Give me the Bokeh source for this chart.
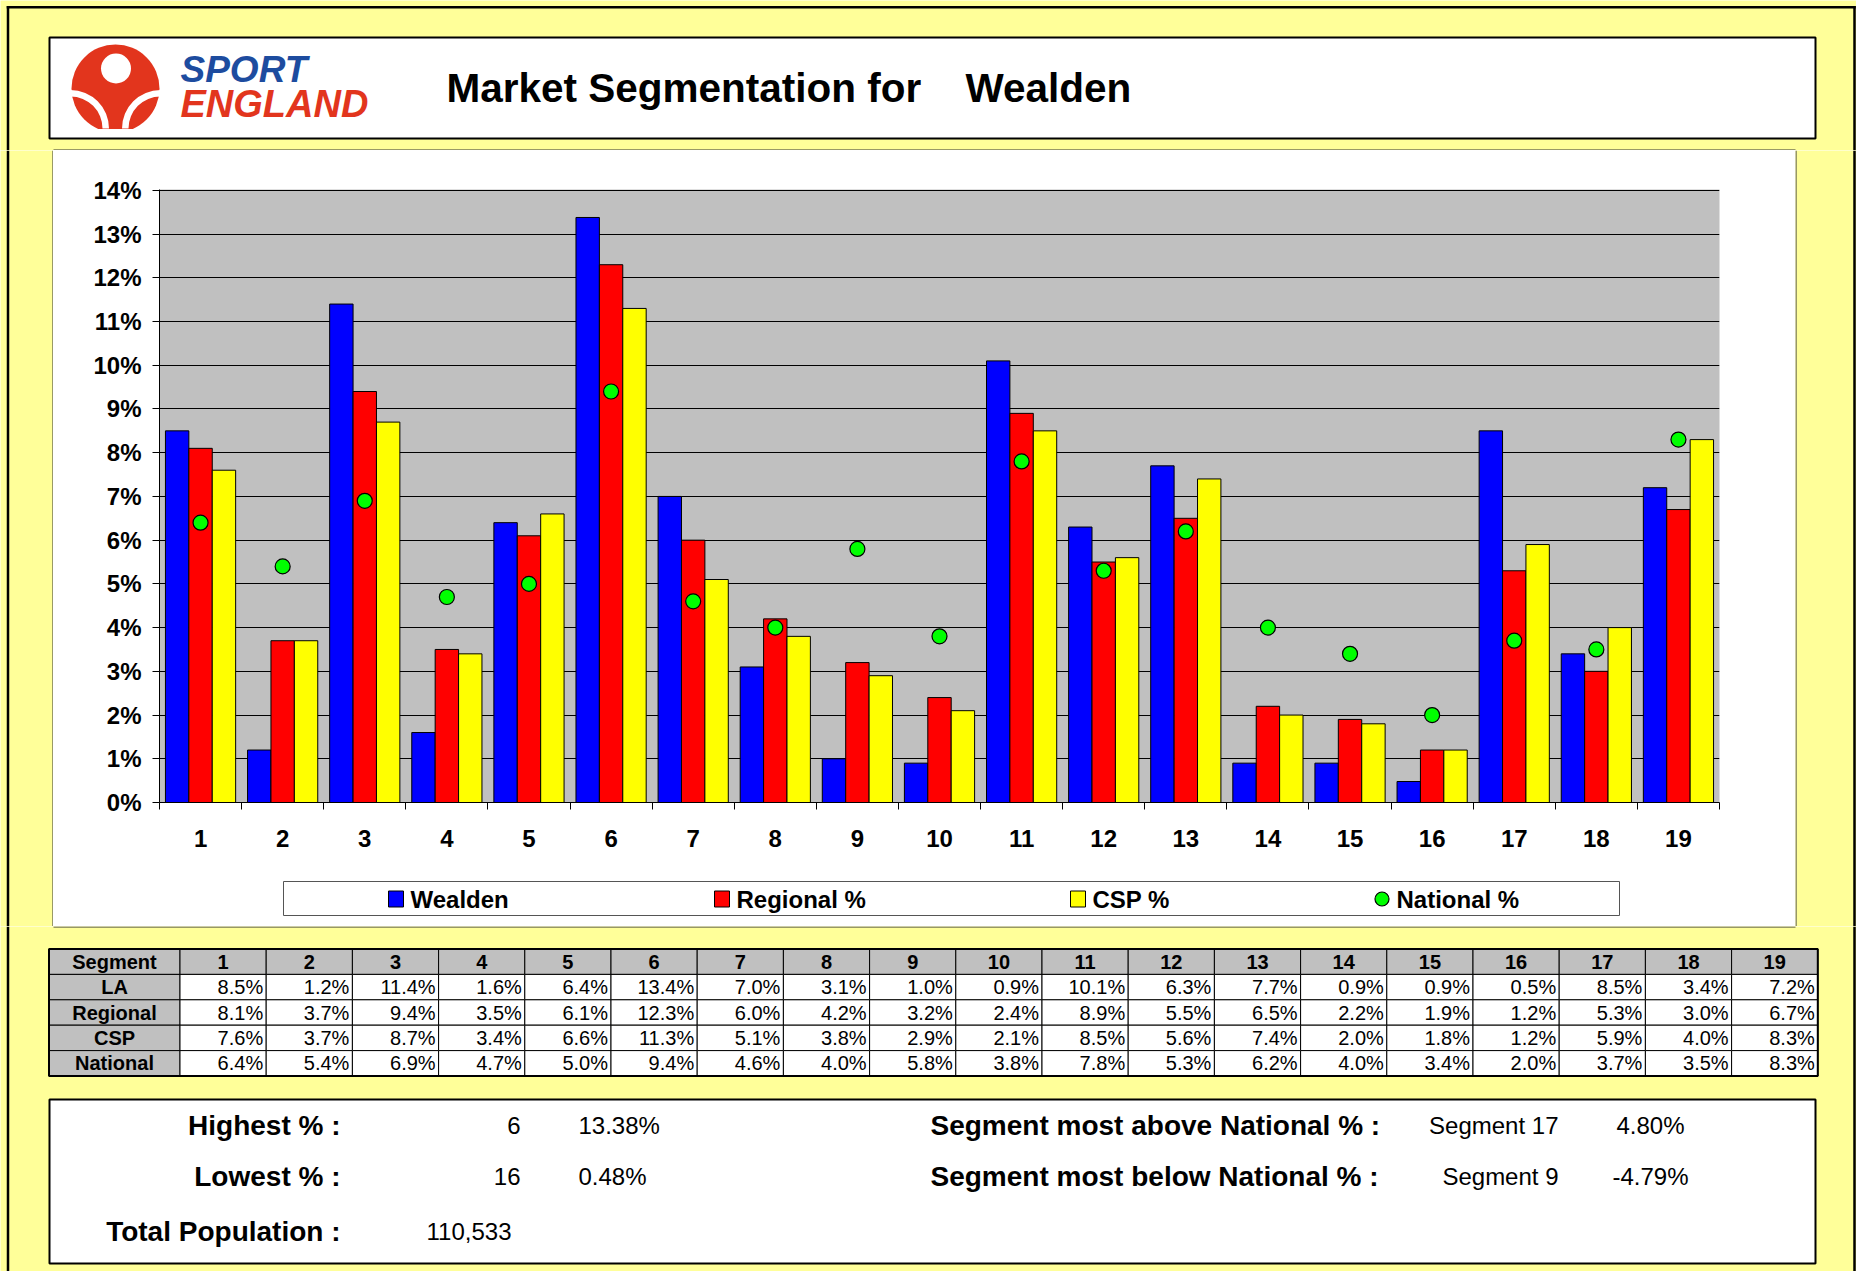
from bokeh.plotting import figure
from bokeh.layouts import column, row
from bokeh.models import Range1d, FixedTicker, PrintfTickFormatter, ColumnDataSource
from bokeh.transform import dodge
from bokeh.core.properties import value
from bokeh.embed import file_html
from bokeh.resources import INLINE

# ---------------- data ----------------
area_name = "Wealden"
segments = list(range(1, 20))
la_pct = [8.5, 1.2, 11.4, 1.6, 6.4, 13.38, 7.0, 3.1, 1.0, 0.9, 10.1, 6.3, 7.7, 0.9, 0.9, 0.48, 8.5, 3.4, 7.2]
regional_pct = [8.1, 3.7, 9.4, 3.5, 6.1, 12.3, 6.0, 4.2, 3.2, 2.4, 8.9, 5.5, 6.5, 2.2, 1.9, 1.2, 5.3, 3.0, 6.7]
csp_pct = [7.6, 3.7, 8.7, 3.4, 6.6, 11.3, 5.1, 3.8, 2.9, 2.1, 8.5, 5.6, 7.4, 2.0, 1.8, 1.2, 5.9, 4.0, 8.3]
national_pct = [6.4, 5.4, 6.9, 4.7, 5.0, 9.4, 4.6, 4.0, 5.8, 3.8, 7.8, 5.3, 6.2, 4.0, 3.4, 2.0, 3.7, 3.5, 8.3]
series_labels = ["Wealden", "Regional %", "CSP %", "National %"]
table_row_labels = ["LA", "Regional", "CSP", "National"]
y_ticks = list(range(0, 15))

highest_seg, highest_val = "6", "13.38%"
lowest_seg, lowest_val = "16", "0.48%"
total_population = "110,533"
above_seg, above_val = "Segment 17", "4.80%"
below_seg, below_val = "Segment 9", "-4.79%"

# ---------------- styles ----------------
FONT = "Liberation Sans"
PAGE = "#FFFF99"
GRAY = "#C0C0C0"
BLUE, RED, YEL, GREEN = "#0000FF", "#FF0000", "#FFFF00", "#00FF00"
LOGO_RED, LOGO_BLUE = "#E2351D", "#1D4C9F"
series_colors = [BLUE, RED, YEL, GREEN]
W_ALL = 1856


def canvas(w, h, bg=PAGE):
    f = figure(width=w, height=h, x_range=Range1d(0, w), y_range=Range1d(0, h),
               output_backend="svg", toolbar_location=None, title=None,
               min_border=0, x_axis_type=None, y_axis_type=None, frame_align=False,
               outline_line_color=None, background_fill_color=bg, border_fill_color=bg)
    return f


def txt(f, x, y, s, size, style="normal", align="left", baseline="middle", color="black"):
    f.text(x=[x], y=[y], text=[s], text_font=value(FONT), text_font_size=size,
           text_font_style=style, text_align=align, text_baseline=baseline, text_color=color)


def vline(f, x, y0, y1, color="black", w=2.5):
    f.segment(x0=[x], y0=[y0], x1=[x], y1=[y1], line_color=color, line_width=w)


def hline(f, y, x0, x1, color="black", w=2.5):
    f.segment(x0=[x0], y0=[y], x1=[x1], y1=[y], line_color=color, line_width=w)


# ================= TOP (page y 0..150) =================
T = canvas(W_ALL, 150)
vline(T, 7.5, 0, 144.5)
vline(T, 1854, 0, 144.5)
hline(T, 143.3, 6.2, 1855.2)
# header box
T.quad(left=[49], right=[1815], bottom=[12], top=[113], fill_color="white",
       line_color="black", line_width=2)
# chart box top edge
hline(T, 0.5, 53, 1795, color="#333333", w=1)

# logo symbol
T.circle(x=[115], y=[62], radius=44, fill_color=LOGO_RED, line_color=None)
T.annular_wedge(x=[70], y=[22], inner_radius=32, outer_radius=38.5, start_angle=0,
                end_angle=1.5708, fill_color="white", line_color=None)
T.annular_wedge(x=[160], y=[22], inner_radius=32, outer_radius=38.5, start_angle=1.5708,
                end_angle=3.1416, fill_color="white", line_color=None)
T.circle(x=[115.5], y=[82], radius=15, fill_color="white", line_color=None)
T.quad(left=[66], right=[164], bottom=[15], top=[21.5], fill_color="white", line_color=None)
txt(T, 180, 81.5, "SPORT", "37px", "bold italic", color=LOGO_BLUE)
txt(T, 180, 47, "ENGLAND", "38px", "bold italic", color=LOGO_RED)

# title
txt(T, 446, 62.5, "Market Segmentation for", "40.5px", "bold")
txt(T, 965, 62.5, area_name, "40.5px", "bold")

# ================= CHART (page x 53..1795, y 150..870) =================
C = figure(width=1742, height=720, x_range=Range1d(0.5, 19.5), y_range=Range1d(0, 14.02),
           output_backend="svg", toolbar_location=None, title=None, frame_align=False,
           min_border_left=106, min_border_right=76, min_border_top=39, min_border_bottom=68,
           background_fill_color=GRAY, border_fill_color="white", outline_line_color=None)
src = ColumnDataSource(dict(seg=segments, la=la_pct, reg=regional_pct, csp=csp_pct, nat=national_pct))
bw = 0.285
for field, off, col in [("la", -bw, BLUE), ("reg", 0.0, RED), ("csp", bw, YEL)]:
    C.vbar(x=dodge("seg", off), top=field, width=bw, source=src,
           fill_color=col, line_color="black", line_width=1)
C.scatter(x="seg", y="nat", source=src, size=15, marker="circle",
          fill_color=GREEN, line_color="black", line_width=1.2)

C.xaxis.ticker = FixedTicker(ticks=segments, minor_ticks=[i + 0.5 for i in range(20)])
C.xaxis.major_tick_out = 0
C.xaxis.major_tick_in = 0
C.xaxis.minor_tick_out = 7
C.xaxis.minor_tick_in = 0
C.xaxis.minor_tick_line_color = "black"
C.xaxis.major_label_standoff = 20

C.yaxis.ticker = FixedTicker(ticks=y_ticks)
C.yaxis.formatter = PrintfTickFormatter(format="%d%%")
C.yaxis.major_tick_out = 7
C.yaxis.major_tick_in = 0
C.yaxis.minor_tick_line_color = None
C.yaxis.major_label_standoff = 11

for ax in (C.xaxis, C.yaxis):
    ax.axis_line_color = "black"
    ax.axis_line_width = 1
    ax.major_tick_line_color = "black"
    ax.major_label_text_font = FONT
    ax.major_label_text_font_size = "24px"
    ax.major_label_text_font_style = "bold"
    ax.major_label_text_color = "black"

C.xgrid.grid_line_color = None
C.ygrid.grid_line_color = "black"
C.ygrid.grid_line_width = 1

# ================= LEGEND STRIP (page x 53..1795, y 870..926) =================
LS = canvas(1742, 56, bg="white")
LS.quad(left=[230], right=[1566], bottom=[11], top=[45], fill_color="white",
        line_color="#555555", line_width=1)
leg_x = [335, 661, 1017, 1321]
leg_y = 27.5
for i in range(3):
    LS.quad(left=[leg_x[i]], right=[leg_x[i] + 15], bottom=[leg_y - 8], top=[leg_y + 8],
            fill_color=series_colors[i], line_color="black", line_width=1)
LS.scatter(x=[leg_x[3] + 7.5], y=[leg_y], size=14, marker="circle",
           fill_color=series_colors[3], line_color="black", line_width=1.2)
for i, lab in enumerate(series_labels):
    txt(LS, leg_x[i] + 22, leg_y, lab, "24px", "bold")

# ================= SIDE SPACERS =================
L = canvas(53, 776)
vline(L, 7.5, 0, 776)
vline(L, 52.5, 0, 776, color="#333333", w=1)
R = canvas(61, 776)
vline(R, 0.5, 0, 776, color="#333333", w=1)
vline(R, 59, 0, 776)

# ================= BOTTOM (page y 926..1271) =================
HB = 345
B = canvas(W_ALL, HB)
vline(B, 7.5, 0, HB)
vline(B, 1854, 0, HB)
hline(B, HB - 0.5, 53, 1795, color="#333333", w=1)

# table
x0, first_w, col_w, row_h, top0 = 48.5, 131.0, 86.2, 25.4, HB - 22.5
rows_vals = [la_pct, regional_pct, csp_pct, national_pct]
lefts, rights, tops, bottoms, fills = [], [], [], [], []
for r in range(5):
    for c in range(20):
        lft = x0 if c == 0 else x0 + first_w + (c - 1) * col_w
        rgt = x0 + first_w if c == 0 else lft + col_w
        lefts.append(lft); rights.append(rgt)
        tops.append(top0 - r * row_h); bottoms.append(top0 - (r + 1) * row_h)
        fills.append(GRAY if (r == 0 or c == 0) else "white")
B.quad(left=lefts, right=rights, bottom=bottoms, top=tops, fill_color=fills,
       line_color="black", line_width=1)
B.quad(left=[x0], right=[x0 + first_w + 19 * col_w], bottom=[top0 - 5 * row_h], top=[top0],
       fill_color=None, line_color="black", line_width=2)

hx = [x0 + first_w / 2] + [x0 + first_w + (c + 0.5) * col_w for c in range(19)]
hy = [top0 - row_h / 2] * 20
B.text(x=hx, y=hy, text=["Segment"] + [str(s) for s in segments], text_font=value(FONT),
       text_font_size="20px", text_font_style="bold", text_align="center", text_baseline="middle")
ly = [top0 - (r + 1.5) * row_h for r in range(4)]
B.text(x=[x0 + first_w / 2] * 4, y=ly, text=table_row_labels, text_font=value(FONT),
       text_font_size="20px", text_font_style="bold", text_align="center", text_baseline="middle")
dx, dy, dt = [], [], []
for r, vals in enumerate(rows_vals):
    for c, v in enumerate(vals):
        dx.append(x0 + first_w + (c + 1) * col_w - 3)
        dy.append(top0 - (r + 1.5) * row_h)
        dt.append(f"{v:.1f}%")
B.text(x=dx, y=dy, text=dt, text_font=value(FONT), text_font_size="20px",
       text_align="right", text_baseline="middle")

# summary box (page y 1099..1263)
B.quad(left=[49], right=[1815], bottom=[HB - 337], top=[HB - 173], fill_color="white",
       line_color="black", line_width=2)
ys = [1271 - 1124.5, 1271 - 1175.5, 1271 - 1231]
txt(B, 340, ys[0], "Highest % :", "28px", "bold", align="right")
txt(B, 340, ys[1], "Lowest % :", "28px", "bold", align="right")
txt(B, 340, ys[2], "Total Population :", "28px", "bold", align="right")
txt(B, 520, ys[0], highest_seg, "24px", align="right")
txt(B, 520, ys[1], lowest_seg, "24px", align="right")
txt(B, 578, ys[0], highest_val, "24px")
txt(B, 578, ys[1], lowest_val, "24px")
txt(B, 426, ys[2], total_population, "24px")
txt(B, 930, ys[0], "Segment most above National % :", "28px", "bold")
txt(B, 930, ys[1], "Segment most below National % :", "28px", "bold")
txt(B, 1558, ys[0], above_seg, "24px", align="right")
txt(B, 1558, ys[1], below_seg, "24px", align="right")
txt(B, 1650, ys[0], above_val, "24px", align="center")
txt(B, 1650, ys[1], below_val, "24px", align="center")

layout = column(T, row(L, column(C, LS), R), B)
open("out.html", "w").write(file_html(layout, INLINE))
